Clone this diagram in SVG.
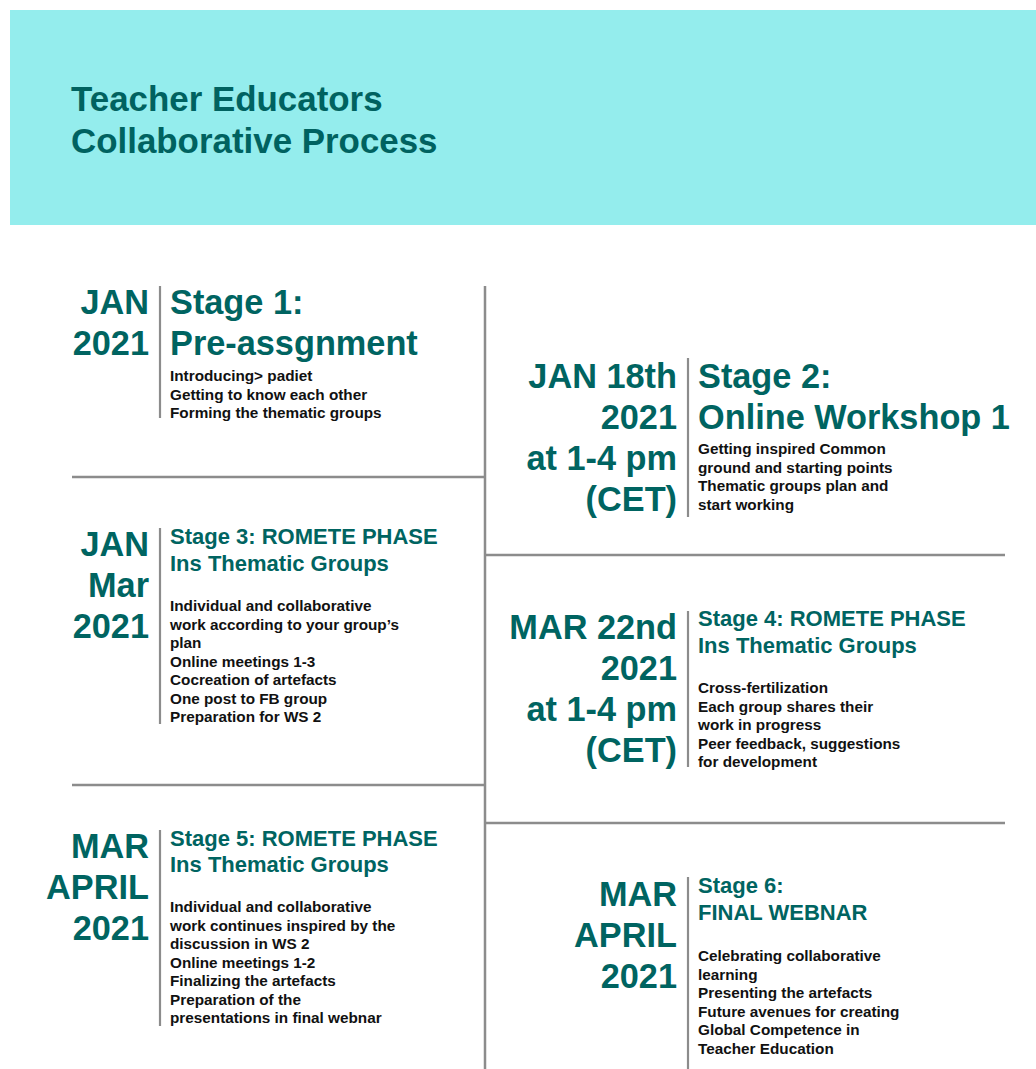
<svg xmlns="http://www.w3.org/2000/svg" width="1036" height="1069" viewBox="0 0 1036 1069">
<style>
  text { font-family: "Liberation Sans", Arial, Helvetica, sans-serif; font-weight: bold; }
  .title { font-size: 34.9px; fill: #006260; }
  .date { font-size: 34.3px; fill: #006461; text-anchor: end; }
  .big { font-size: 34.3px; fill: #006461; }
  .head { font-size: 22px; fill: #006461; }
  .body { font-size: 15.3px; fill: #111111; }
  .rule { stroke: #8c8c8c; stroke-width: 2.5; fill: none; }
  .bar { stroke: #8c8c8c; stroke-width: 2.2; fill: none; }
</style>
<rect x="0" y="0" width="1036" height="1069" fill="#ffffff"/>
<g id="header">
  <rect x="10" y="10" width="1026" height="215" fill="#94eded"/>
  <text class="title" x="71" y="111">Teacher Educators</text>
  <text class="title" x="71" y="153">Collaborative Process</text>
</g>
<g id="connectors">
  <line class="rule" x1="485" y1="286" x2="485" y2="1069"/>
  <line class="rule" x1="72" y1="477" x2="485" y2="477"/>
  <line class="rule" x1="72" y1="785" x2="485" y2="785"/>
  <line class="rule" x1="485" y1="555" x2="1005" y2="555"/>
  <line class="rule" x1="485" y1="823" x2="1005" y2="823"/>
</g>
<g id="stage1">
  <text class="date" x="149" y="314">JAN</text>
  <text class="date" x="149" y="355">2021</text>
  <line class="bar" x1="160" y1="286" x2="160" y2="418"/>
  <text class="big" x="170" y="314">Stage 1:</text>
  <text class="big" x="170" y="355">Pre-assgnment</text>
  <text class="body" x="170" y="381">Introducing&gt; padiet</text>
  <text class="body" x="170" y="399.5">Getting to know each other</text>
  <text class="body" x="170" y="418">Forming the thematic groups</text>
</g>
<g id="stage2">
  <text class="date" x="677" y="388">JAN 18th</text>
  <text class="date" x="677" y="429">2021</text>
  <text class="date" x="677" y="470">at 1-4 pm</text>
  <text class="date" x="677" y="511">(CET)</text>
  <line class="bar" x1="688" y1="358" x2="688" y2="517"/>
  <text class="big" x="698" y="388">Stage 2:</text>
  <text class="big" x="698" y="429">Online Workshop 1</text>
  <text class="body" x="698" y="454">Getting inspired Common</text>
  <text class="body" x="698" y="472.5">ground and starting points</text>
  <text class="body" x="698" y="491">Thematic groups plan and</text>
  <text class="body" x="698" y="509.5">start working</text>
</g>
<g id="stage3">
  <text class="date" x="149" y="556">JAN</text>
  <text class="date" x="149" y="597">Mar</text>
  <text class="date" x="149" y="638">2021</text>
  <line class="bar" x1="160" y1="528" x2="160" y2="724"/>
  <text class="head" x="170" y="544">Stage 3: ROMETE PHASE</text>
  <text class="head" x="170" y="571">Ins Thematic Groups</text>
  <text class="body" x="170" y="611">Individual and collaborative</text>
  <text class="body" x="170" y="629.5">work according to your group’s</text>
  <text class="body" x="170" y="648">plan</text>
  <text class="body" x="170" y="666.5">Online meetings 1-3</text>
  <text class="body" x="170" y="685">Cocreation of artefacts</text>
  <text class="body" x="170" y="703.5">One post to FB group</text>
  <text class="body" x="170" y="722">Preparation for WS 2</text>
</g>
<g id="stage4">
  <text class="date" x="677" y="639">MAR 22nd</text>
  <text class="date" x="677" y="680">2021</text>
  <text class="date" x="677" y="721">at 1-4 pm</text>
  <text class="date" x="677" y="762">(CET)</text>
  <line class="bar" x1="688" y1="611" x2="688" y2="767"/>
  <text class="head" x="698" y="626">Stage 4: ROMETE PHASE</text>
  <text class="head" x="698" y="653">Ins Thematic Groups</text>
  <text class="body" x="698" y="693">Cross-fertilization</text>
  <text class="body" x="698" y="711.5">Each group shares their</text>
  <text class="body" x="698" y="730">work in progress</text>
  <text class="body" x="698" y="748.5">Peer feedback, suggestions</text>
  <text class="body" x="698" y="767">for development</text>
</g>
<g id="stage5">
  <text class="date" x="149" y="858">MAR</text>
  <text class="date" x="149" y="899">APRIL</text>
  <text class="date" x="149" y="940">2021</text>
  <line class="bar" x1="160" y1="830" x2="160" y2="1026"/>
  <text class="head" x="170" y="846">Stage 5: ROMETE PHASE</text>
  <text class="head" x="170" y="872">Ins Thematic Groups</text>
  <text class="body" x="170" y="912">Individual and collaborative</text>
  <text class="body" x="170" y="930.5">work continues inspired by the</text>
  <text class="body" x="170" y="949">discussion in WS 2</text>
  <text class="body" x="170" y="967.5">Online meetings 1-2</text>
  <text class="body" x="170" y="986">Finalizing the artefacts</text>
  <text class="body" x="170" y="1004.5">Preparation of the</text>
  <text class="body" x="170" y="1023">presentations in final webnar</text>
</g>
<g id="stage6">
  <text class="date" x="677" y="906">MAR</text>
  <text class="date" x="677" y="947">APRIL</text>
  <text class="date" x="677" y="988">2021</text>
  <line class="bar" x1="688" y1="877" x2="688" y2="1069"/>
  <text class="head" x="698" y="893">Stage 6:</text>
  <text class="head" x="698" y="920">FINAL WEBNAR</text>
  <text class="body" x="698" y="961">Celebrating collaborative</text>
  <text class="body" x="698" y="979.5">learning</text>
  <text class="body" x="698" y="998">Presenting the artefacts</text>
  <text class="body" x="698" y="1016.5">Future avenues for creating</text>
  <text class="body" x="698" y="1035">Global Competence in</text>
  <text class="body" x="698" y="1053.5">Teacher Education</text>
</g>
</svg>
